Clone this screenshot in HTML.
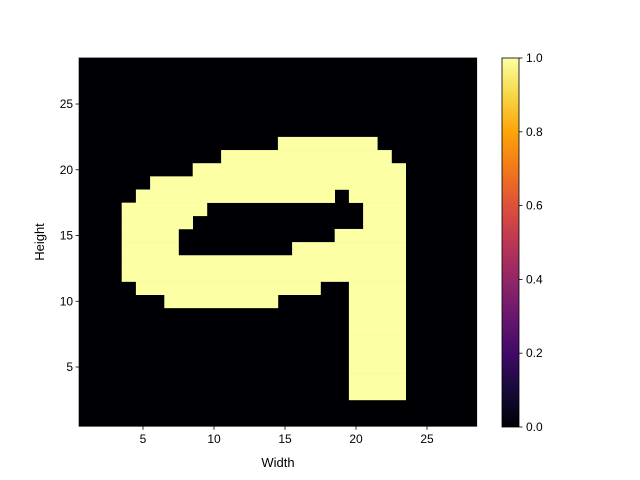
<!DOCTYPE html>
<html><head><meta charset="utf-8"><style>
body{margin:0;background:#fff;}
svg{display:block;font-family:"Liberation Sans","DejaVu Sans",sans-serif;}
</style></head><body>
<svg id="c" width="640" height="480">
<defs><linearGradient id="inf" x1="0" y1="1" x2="0" y2="0">
<stop offset="0" stop-color="#000004"/><stop offset="0.1" stop-color="#160b39"/>
<stop offset="0.2" stop-color="#420a68"/><stop offset="0.3" stop-color="#6a176e"/>
<stop offset="0.4" stop-color="#932667"/><stop offset="0.5" stop-color="#bc3754"/>
<stop offset="0.6" stop-color="#dd513a"/><stop offset="0.7" stop-color="#f37819"/>
<stop offset="0.8" stop-color="#fca50a"/><stop offset="0.9" stop-color="#f6d746"/>
<stop offset="1" stop-color="#fcffa4"/></linearGradient></defs>
<g id="img"></g>
<g id="axes"></g>
<rect x="502" y="58" width="17" height="369" fill="url(#inf)" stroke="#000" stroke-width="0.8"/>
<g id="cb"></g>
<text x="278" y="467" font-size="13" text-anchor="middle">Width</text>
<text x="44" y="242" font-size="13" text-anchor="middle" transform="rotate(-90 44 242)">Height</text>
</svg>
<script>
// runs: [y, startCol, endCol] of value 1 pixels
const runs = [
[22,15,21],[21,11,22],[20,9,23],[19,6,23],[18,5,18],[18,20,23],
[17,4,9],[17,21,23],[16,4,8],[16,21,23],[15,4,7],[15,19,23],
[14,4,7],[14,16,23],[13,4,23],[12,4,23],[11,5,17],[11,20,23],
[10,7,14],[10,20,23],[9,20,23],[8,20,23],[7,20,23],[6,20,23],
[5,20,23],[4,20,23],[3,20,23]];
const xTicks=[5,10,15,20,25];
const yTicks=[5,10,15,20,25];
const cbTicks=[0.0,0.2,0.4,0.6,0.8,1.0];
const NS="http://www.w3.org/2000/svg";
const X0=79.1,X1=476.7,Y0=426.2,Y1=58;
const sx=v=>X0+(v-0.5)*(X1-X0)/28;
const sy=v=>Y0-(v-0.5)*(Y0-Y1)/28;
function mk(t,a,p){const e=document.createElementNS(NS,t);for(const k in a)e.setAttribute(k,a[k]);p.appendChild(e);return e;}
const img=document.getElementById('img');
const bg=mk('rect',{x:X0,y:Y1,width:X1-X0,height:Y0-Y1,fill:'#000004'},img);


runs.forEach(r=>{
 const e=mk('rect',{x:sx(r[1]-0.5),y:sy(r[0]+0.5),width:sx(r[2]+0.5)-sx(r[1]-0.5)+0.3,height:sy(r[0]-0.5)-sy(r[0]+0.5)+0.3,fill:'#fcffa4'},img);
 
 
});
const ax=document.getElementById('axes');
const fr=mk('rect',{x:X0,y:Y1,width:X1-X0,height:Y0-Y1,fill:'none',stroke:'#000','stroke-width':0.8},ax);


xTicks.forEach(t=>{
 mk('line',{x1:sx(t),x2:sx(t),y1:Y0,y2:Y0+3.5,stroke:'#000','stroke-width':0.8},ax);
 const l=mk('text',{x:sx(t),y:Y0+17,'font-size':12,'text-anchor':'middle'},ax);l.textContent=t;
 
 
});
yTicks.forEach(t=>{
 mk('line',{x1:X0-3.5,x2:X0,y1:sy(t),y2:sy(t),stroke:'#000','stroke-width':0.8},ax);
 const l=mk('text',{x:X0-6,y:sy(t)+4,'font-size':12,'text-anchor':'end'},ax);l.textContent=t;
 
 
});
const cb=document.getElementById('cb');
cbTicks.forEach(t=>{
 const y=427-t*369;
 mk('line',{x1:519,x2:522.5,y1:y,y2:y,stroke:'#000','stroke-width':0.8},cb);
 const l=mk('text',{x:526,y:y+4,'font-size':12},cb);l.textContent=t.toFixed(1);
 
 
});
</script>
</body></html>
